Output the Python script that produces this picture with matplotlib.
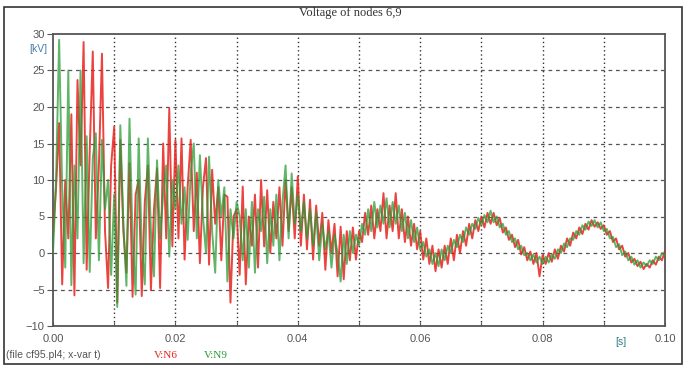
#!/usr/bin/env python3
"""Voltage of nodes 6,9 - ATP PlotXY style transient plot."""

import matplotlib
matplotlib.use("Agg")
import matplotlib.pyplot as plt
from matplotlib.patches import Rectangle
import numpy as np

# sample spacing of the read-off values [s]
t_step = 0.0005

# V:N6 [kV], one value per 0.5 ms
v_n6 = [
    2.5, 9, 17.8, -4.3, 10, 2, 19, -5.8, 23.7, 12, 28.9, -2.3, 14, 27.6, 2, 12, 27.3, 3, -4.8, 12, 17.3,
    -6.8, 15.5, 3, -2.7, 12.3, -6, 8, 10, -5.9, 7, 12, -5.1, 6, 11.6, -4.8, 15, 2, 19.8, 0.9, 15.5,
    2, 15.7, -0.9, 9, 15.5, 3, 11, -1.4, 9, 13, -1.6, 11.4, 4, 9, -1, 8, 7.7, -6.8, 5, 6,
    -3, 9.1, -4.3, 5, 1, 8, -2, 10, 0.9, 8.6, 0, 7, 2, 9, 1, 10, 3, 9, 2, 10.5,
    1, 8, 0.5, 7.3, -0.9, 6.5, 1, 5.5, -2.3, 4.5, 0, 4, -3.2, 3.6, -3.6, 3, -1, 3.5, -0.9, 3,
    1.5, 5.5, 2.5, 6.5, 2, 6, 3, 8.2, 2, 6.5, 3, 8.2, 2, 6, 1.5, 5, 1, 4, 0.5, 3,
    -0.9, 2, -1.5, 1, -2.5, 0.5, -2, 1, -1.5, 2, -1, 2.5, 0, 3, 1, 4, 2, 4.5, 3, 5,
    3.5, 5.5, 4, 5.5, 3.8, 4.8, 2.8, 3.5, 1.8, 2.5, 0.8, 1.8, -0.2, 0.8, -1, 0.2, -1.5, 0, -3.2, -0.3,
    -1.5, 0, -1.2, 0.5, -0.8, 1, 0.2, 2, 1, 2.8, 2, 3.5, 2.6, 4, 3.2, 4.5, 3.6, 4.2, 3.3, 3.8,
    2.5, 3, 1.5, 2, 0.5, 1, -0.5, 0, -1.3, -0.8, -1.8, -1.2, -2.2, -1.5, -2, -1, -1.6, -0.5, -1, 0.3,
]

# V:N9 [kV]
v_n9 = [
    0, 10, 29.2, 9, -2, 25, -4.4, 12, 2, 25, -1.4, 16, -2.6, 13, 16.4, -1, 15.5, 6, 10, -3, 8,
    -7.4, 17.5, 4, -4.5, 18.4, 2, -5.7, 15.7, 1, -4.3, 15.7, 3, -3.2, 12.7, 2, 8, 12, -0.5, 10, 6,
    12, 4, 9, 1.8, 11, 15, 2, 13.4, 5, 0, 13.2, 3, -2.7, 10, 5, 9, -3.9, 6, 2, 7,
    5, -1, 6, -2, 7, -2.7, 6, 3, 7.7, -1.4, 6, 1, 8, -1, 7, 12, 2, 10.9, 4, 8,
    3, 7, 2, 6, 1, 5.5, -1, 4, 0.5, 3, -2, 2.5, 0, -3.9, 2.5, -1.5, 3, 0, 2.5, 1,
    4, 2.5, 6, 3, 7, 3.5, 6.5, 4, 7.5, 3.5, 7, 4, 6.5, 3, 5.5, 2, 4.5, 1.5, 3.5, 0.5,
    1.5, -0.5, 0.5, -1.5, 0, -1.8, 0.5, -1, 1, 0, 1.8, 0.8, 2.5, 1.5, 3.5, 2.5, 4, 3.3, 4.8, 3.8,
    5.2, 4.2, 5.8, 4.2, 5, 3.5, 4, 2.5, 3, 1.5, 2, 0.5, 1, -0.3, 0, -1, -0.2, -1.3, -0.5, -1.5,
    -0.5, -1.3, -0.2, -0.8, 0.5, 0, 1.3, 0.8, 2, 1.8, 3, 2.5, 3.8, 3.2, 4.3, 3.7, 4.5, 3.5, 4.2, 3,
    3.3, 2, 2.2, 0.8, 1.2, -0.3, 0.2, -1, -0.5, -1.6, -1, -2, -1.3, -1.8, -1, -1.5, -0.5, -1, 0, -0.3,
]

x_ticks = [0.0, 0.01, 0.02, 0.03, 0.04, 0.05, 0.06, 0.07, 0.08, 0.09, 0.10]
x_labels = ['0.00', '', '0.02', '', '0.04', '', '0.06', '', '0.08', '', '0.10']
y_ticks = [-10, -5, 0, 5, 10, 15, 20, 25, 30]

RED = '#e8231e'
GREEN = '#2a9c36'
GRAY = '#555555'


def make_plot():
    fig = plt.figure(figsize=(6.85, 3.66), dpi=100)
    ax = fig.add_axes([53 / 685, 1 - 326 / 366, 612 / 685, 292 / 366])

    t6 = np.arange(len(v_n6)) * t_step
    t9 = np.arange(len(v_n9)) * t_step
    ax.plot(t6, v_n6, color=RED, linewidth=1.4, alpha=0.85, zorder=3)
    ax.plot(t9, v_n9, color=GREEN, linewidth=1.4, alpha=0.75, zorder=4)

    ax.set_xlim(0, 0.1)
    ax.set_ylim(-10, 30)
    ax.set_xticks(x_ticks)
    ax.set_xticklabels(x_labels)
    ax.set_yticks(y_ticks)

    # grid: dotted verticals, dashed horizontals
    for xv in x_ticks[1:-1]:
        ax.axvline(xv, color='#333333', linestyle=(0, (1, 2)), linewidth=1.0, zorder=1)
    for yv in y_ticks[1:-1]:
        ax.axhline(yv, color='#555555', linestyle=(0, (3, 3)), linewidth=0.9, zorder=1)

    for spine in ax.spines.values():
        spine.set_color('#555555')
        spine.set_linewidth(1.3)
    ax.tick_params(axis='x', direction='in', length=3, colors='#555555',
                   labelcolor=GRAY, labelsize=8, pad=6)
    ax.tick_params(axis='y', direction='out', length=4, colors='#555555',
                   labelcolor=GRAY, labelsize=8, pad=2)
    for lab in ax.get_xticklabels() + ax.get_yticklabels():
        lab.set_fontfamily('Liberation Sans')

    # texts
    fig.text(350 / 685, 1 - 13 / 366, 'Voltage of nodes 6,9', ha='center', va='center',
             fontsize=9, color='#333333', fontfamily='Liberation Serif')
    fig.text(38 / 685, 1 - 49 / 366, '[kV]', ha='center', va='center',
             fontsize=7.5, color='#4a7fa8', fontfamily='Liberation Sans')
    fig.text(621 / 685, 1 - 342 / 366, '[s]', ha='center', va='center',
             fontsize=7.5, color='#2f7f86', fontfamily='Liberation Sans')
    fig.text(6 / 685, 1 - 355 / 366, '(file cf95.pl4; x-var t)', ha='left', va='center',
             fontsize=7.5, color=GRAY, fontfamily='Liberation Sans')
    fig.text(154 / 685, 1 - 355 / 366, 'V:N6', ha='left', va='center',
             fontsize=8, color=RED, fontfamily='Liberation Serif')
    fig.text(204 / 685, 1 - 355 / 366, 'V:N9', ha='left', va='center',
             fontsize=8, color=GREEN, fontfamily='Liberation Serif')

    # outer window frame
    fig.patches.append(Rectangle((4 / 685, 1 - 364 / 366), 678 / 685, 357 / 366,
                                 transform=fig.transFigure, fill=False,
                                 edgecolor='#333333', linewidth=1.2))

    fig.savefig('out.png', dpi=100, facecolor='white')
    plt.close(fig)


if __name__ == "__main__":
    make_plot()
